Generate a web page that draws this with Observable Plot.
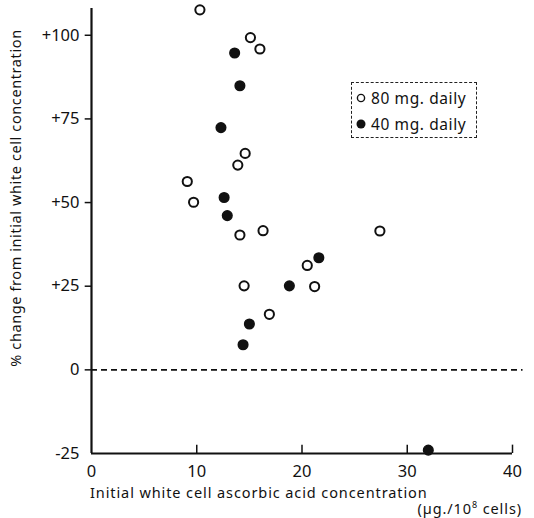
<!DOCTYPE html>
<html><head><meta charset="utf-8">
<script src="https://cdn.jsdelivr.net/npm/d3@7"></script>
<script src="https://cdn.jsdelivr.net/npm/@observablehq/plot@0.6"></script>
<style>
body{margin:0;background:#fff;font-family:"Noto Sans",sans-serif;}
#wrap{position:relative;width:534px;height:518px;}
#legend{position:absolute;left:351px;top:82px;width:126px;height:56px;border:1px dashed #222;font-size:15.5px;line-height:26px;color:#111;padding:2px 0 0 4px;box-sizing:border-box;letter-spacing:0.6px;}
#legend div{white-space:nowrap;}
#legend svg{vertical-align:middle;margin-right:5px;margin-top:-3px;}
</style></head>
<body><div id="wrap"><div id="legend"></div></div>
<script>
const open80X = [10.3, 15.1, 16.0, 14.6, 13.9, 9.1, 9.7, 14.1, 16.3, 14.5, 16.9, 27.4, 20.5, 21.2];
const open80Y = [107.6, 99.3, 95.9, 64.7, 61.2, 56.3, 50.1, 40.3, 41.6, 25.1, 16.6, 41.5, 31.2, 24.9];
const fill40X = [13.6, 14.1, 12.3, 12.6, 12.9, 18.8, 15.0, 14.4, 21.6, 32.0];
const fill40Y = [94.7, 84.9, 72.4, 51.5, 46.1, 25.1, 13.7, 7.5, 33.5, -24];
const yTicks = [100, 75, 50, 25, 0, -25];
const yTickLabels = ["+100", "+75", "+50", "+25", "0", "-25"];
const xTicks = [0, 10, 20, 30, 40];
const xTickLabels = ["0", "10", "20", "30", "40"];
const seriesNames = ["80 mg. daily", "40 mg. daily"];

const open80 = open80X.map((x, i) => ({x, y: open80Y[i]}));
const fill40 = fill40X.map((x, i) => ({x, y: fill40Y[i]}));

const chart = Plot.plot({
  width: 534, height: 518,
  marginLeft: 91, marginRight: 22, marginTop: 8, marginBottom: 65,
  style: {fontFamily: "Noto Sans, sans-serif", color: "#111", background: "#fff"},
  x: {domain: [0, 40], axis: null},
  y: {domain: [-25, 108], axis: null},
  marks: [
    Plot.ruleY([0], {x1: 0, x2: 41, stroke: "#111", strokeWidth: 1.6, strokeDasharray: "6,4"}),
    Plot.ruleX([0], {y1: -25, y2: 108, stroke: "#111", strokeWidth: 2.2}),
    Plot.ruleY([-25], {x1: 0, x2: 40, stroke: "#111", strokeWidth: 2.2}),
    Plot.ruleX(xTicks.slice(1), {y1: -25, y2: -22.5, stroke: "#111", strokeWidth: 1.5}),
    Plot.ruleY(yTicks.slice(0, 5), {x1: -0.6, x2: 0, stroke: "#111", strokeWidth: 1.5}),
    Plot.text(yTicks, {x: 0, y: d => d, text: (d, i) => yTickLabels[i], dx: -12, textAnchor: "end", fontSize: 16.5, letterSpacing: "1px"}),
    Plot.text(xTicks, {x: d => d, y: -25, text: (d, i) => xTickLabels[i], dy: 18, fontSize: 16.5}),
    Plot.dot(open80, {x: "x", y: "y", r: 4.6, stroke: "#111", strokeWidth: 2, fill: "white"}),
    Plot.dot(fill40, {x: "x", y: "y", r: 4.8, fill: "#111", stroke: "#111"})
  ]
});
const svg = d3.select(chart);
svg.append("text").attr("x", 90).attr("y", 498).attr("text-anchor", "start").attr("font-size", 14.5).attr("letter-spacing", "0.9px")
  .attr("fill", "#111").text("Initial white cell ascorbic acid concentration");
svg.append("text").attr("x", 522).attr("y", 514).attr("text-anchor", "end").attr("font-size", 14.5).attr("letter-spacing", "0.9px")
  .attr("fill", "#111").html("(µg./10<tspan dy='-6' font-size='9'>8</tspan><tspan dy='6'> cells)</tspan>");
svg.append("text").attr("transform", "translate(21,198) rotate(-90)").attr("text-anchor", "middle")
  .attr("font-size", 14.5).attr("letter-spacing", "0.6px").attr("fill", "#111")
  .text("% change from initial white cell concentration");
document.getElementById("wrap").prepend(chart);

const legend = d3.select("#legend");
const r1 = legend.append("div");
r1.append("svg").attr("width", 10).attr("height", 10).append("circle").attr("cx", 5).attr("cy", 5).attr("r", 3.6).attr("fill", "white").attr("stroke", "#111").attr("stroke-width", 1.4);
r1.append("span").text(seriesNames[0]);
const r2 = legend.append("div");
r2.append("svg").attr("width", 10).attr("height", 10).append("circle").attr("cx", 5).attr("cy", 5).attr("r", 4.5).attr("fill", "#111");
r2.append("span").text(seriesNames[1]);
</script></body></html>
